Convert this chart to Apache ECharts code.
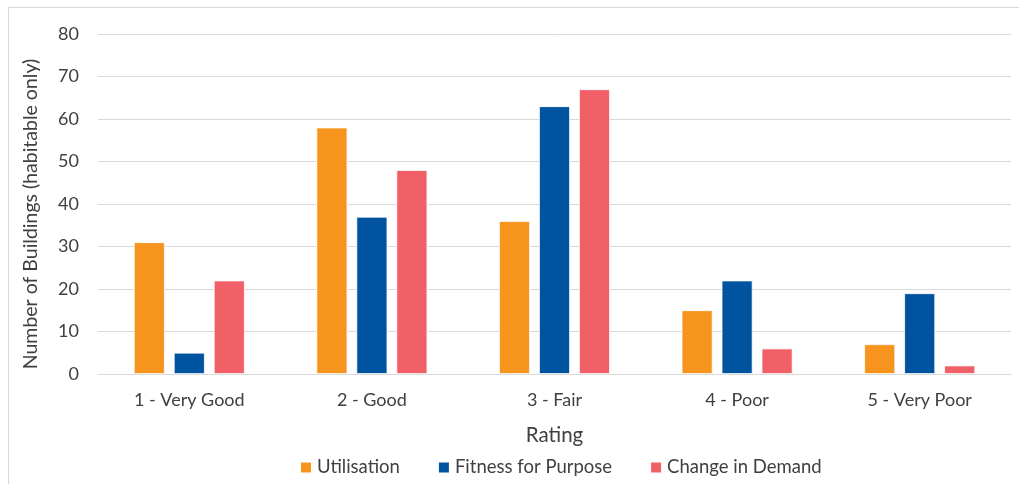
<!DOCTYPE html>
<html>
<head>
<meta charset="utf-8">
<script src="https://cdn.jsdelivr.net/npm/echarts@6/dist/echarts.min.js"></script>
<style>
  html, body { margin: 0; padding: 0; background: #fff; }
  #frame { position: absolute; left: 8px; top: 7px; width: 1020px; height: 490px; border: 1px solid #d9d9d9; box-sizing: border-box; }
  #chart { position: absolute; left: 0; top: 0; width: 1019px; height: 484px; }
</style>
</head>
<body>
<div id="frame"></div>
<div id="chart"></div>
<script>
// Building ratings by assessment type
const categories = ['1 - Very Good', '2 - Good', '3 - Fair', '4 - Poor', '5 - Very Poor'];
const utilisation = [31, 58, 36, 15, 7];
const fitnessForPurpose = [5, 37, 63, 22, 19];
const changeInDemand = [22, 48, 67, 6, 2];
const seriesNames = ['Utilisation', 'Fitness for Purpose', 'Change in Demand'];
const yTicks = { min: 0, max: 80, interval: 10 };

const FONT = 'Lato, "Open Sans", sans-serif';
const TEXT = '#404040';
const colors = ['#F7941D', '#00539F', '#F06066'];

const chart = echarts.init(document.getElementById('chart'), null, { renderer: 'canvas' });

function barSeries(name, data, color) {
  return {
    name: name,
    type: 'bar',
    data: data,
    barWidth: 31,
    barGap: '29%',
    itemStyle: { color: color, borderColor: '#ffffff', borderWidth: 0.8 }
  };
}

chart.setOption({
  animation: false,
  textStyle: { fontFamily: FONT },
  grid: { left: 98, right: 8, top: 34, bottom: 110, containLabel: false },
  legend: {
    top: 453,
    left: 294,
    itemWidth: 12,
    itemHeight: 12,
    itemGap: 37,
    icon: 'rect',
    textStyle: { fontFamily: FONT, fontSize: 18.5, color: TEXT },
    data: seriesNames
  },
  xAxis: {
    type: 'category',
    data: categories,
    name: 'Rating',
    nameLocation: 'middle',
    nameGap: 51,
    nameTextStyle: { fontFamily: FONT, fontSize: 20.5, color: TEXT },
    axisLine: { lineStyle: { color: '#d9d9d9', width: 1 } },
    axisTick: { show: false },
    axisLabel: { fontFamily: FONT, fontSize: 18, color: TEXT, margin: 17 }
  },
  yAxis: {
    type: 'value',
    min: yTicks.min,
    max: yTicks.max,
    interval: yTicks.interval,
    name: 'Number of Buildings (habitable only)',
    nameLocation: 'middle',
    nameGap: 57,
    nameRotate: 90,
    nameTextStyle: { fontFamily: FONT, fontSize: 19.5, color: TEXT, padding: [0, 20, 0, 0] },
    axisLine: { show: false },
    axisTick: { show: false },
    axisLabel: { fontFamily: FONT, fontSize: 18, color: TEXT, margin: 19 },
    splitLine: { lineStyle: { color: '#d9d9d9', width: 1 } }
  },
  series: [
    barSeries(seriesNames[0], utilisation, colors[0]),
    barSeries(seriesNames[1], fitnessForPurpose, colors[1]),
    barSeries(seriesNames[2], changeInDemand, colors[2])
  ]
});
</script>
</body>
</html>
